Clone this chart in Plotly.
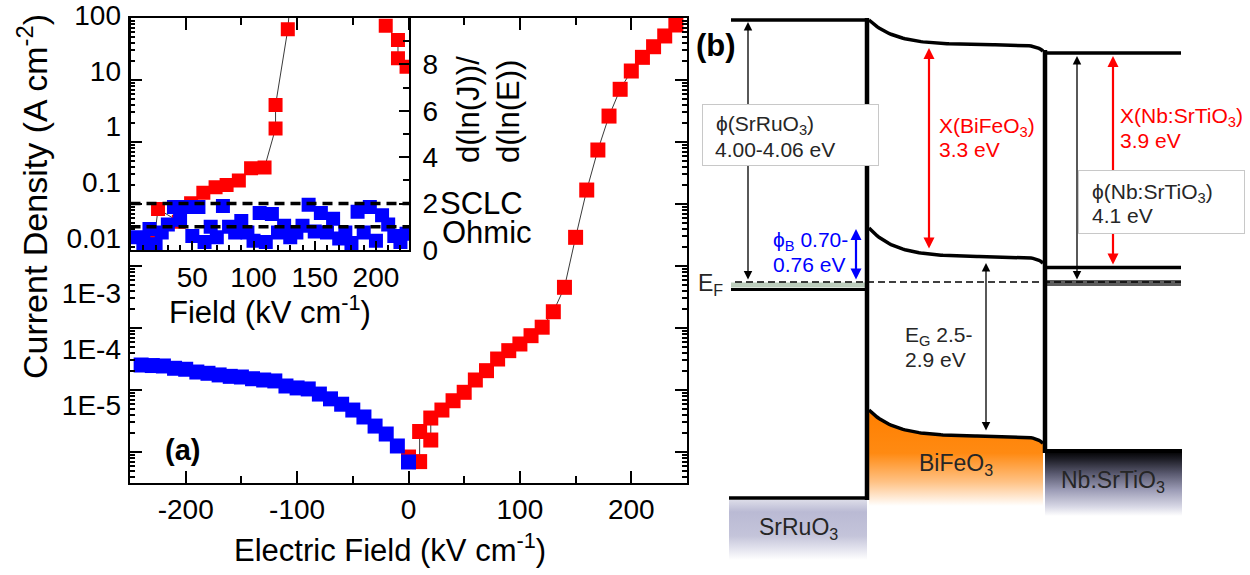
import math
import plotly.graph_objects as go

W, H = 1250, 575
FONT = "Liberation Sans, Arial, sans-serif"

# ===================== DATA : panel (a) main J-E =====================
E_neg = [-240, -230, -220, -210, -200, -190, -180, -170, -160, -150, -140, -130, -120,
         -110, -100, -90, -80, -70, -60, -50, -40, -30, -20, -10, 0]
J_neg = [2.53e-4, 2.48e-4, 2.44e-4, 2.24e-4, 2.16e-4, 1.95e-4, 1.86e-4, 1.75e-4, 1.66e-4,
         1.62e-4, 1.52e-4, 1.45e-4, 1.40e-4, 1.16e-4, 1.08e-4, 1.04e-4, 8.6e-5, 7.2e-5,
         5.9e-5, 4.75e-5, 3.67e-5, 2.62e-5, 1.95e-5, 1.25e-5, 6.9e-6]

E_pos = [0, 10, 10, 20, 20, 30, 40, 50, 60, 70, 80, 90, 100, 110, 120, 130, 140,
         150, 160, 170, 180, 190, 200, 210, 220, 230, 240]
J_pos = [8.3e-6, 7.0e-6, 2.14e-5, 1.56e-5, 3.53e-5, 4.75e-5, 6.71e-5, 9.18e-5, 1.45e-4,
         2.05e-4, 3.16e-4, 4.31e-4, 5.52e-4, 7.52e-4, 1.03e-3, 1.83e-3, 4.53e-3,
         0.029, 0.168, 0.743, 2.62, 7.08, 13.96, 23.2, 34.4, 51.3, 77.1]

# ===================== DATA : inset d(lnJ)/d(lnE) =====================
inset_E_pos = [19, 22, 39, 49, 59, 69, 78, 88, 98, 109, 118, 118, 128, 138,
               None, 208, 218, 218, 225]
inset_s_pos = [0.50, 1.77, 1.22, 2.02, 2.47, 2.70, 2.80, 3.00, 3.52, 3.56, 5.24, 6.25,
               9.51, 16.0, None, 9.67, 9.05, 8.26, 7.9]

inset_E_neg = [5, 10, 15, 20, 25, 30, 35, 40, 45, 50, 55, 60, 65, 70, 75, 80, 85, 90,
               95, 100, 105, 110, 115, 120, 125, 130, 135, 140, 145, 150, 155, 160, 165,
               170, 175, 180, 185, 190, 195, 200, 205, 210, 215, 220, 225]
inset_s_neg = [0.55, 0.30, 0.90, 0.25, 0.75, 1.10, 1.85, 1.30, 1.85, 0.60, 1.85, 0.35,
               1.00, 0.55, 1.90, 1.00, 0.75, 1.25, 0.75, 0.40, 1.60, 0.35, 1.55, 0.75,
               1.05, 0.55, 0.75, 1.05, 1.95, 0.80, 1.60, 0.75, 1.35, 0.50, 0.75, 0.30,
               1.65, 0.75, 1.85, 0.40, 1.50, 1.10, 0.60, 0.35, 0.70]

inset_ref_levels = [2, 1]
inset_ref_labels = ["SCLC", "Ohmic"]

# tick labels
main_x_ticks = [-200, -100, 0, 100, 200]
main_x_text = ["-200", "-100", "0", "100", "200"]
main_x_minor = [-150, -50, 50, 150]
main_y_ticks = [1e-5, 1e-4, 1e-3, 1e-2, 0.1, 1, 10, 100]
main_y_text = ["1E-5", "1E-4", "1E-3", "0.01", "0.1", "1", "10", "100"]
main_y_minor = [k * 10.0 ** n for n in range(-6, 2) for k in range(2, 10)]
inset_x_ticks = [50, 100, 150, 200]
inset_x_minor = [v for v in range(10, 230, 10) if v % 50]
inset_y_ticks = [0, 2, 4, 6, 8]
inset_y_minor = [1, 3, 5, 7, 9]

# ===================== panel (b) schematic geometry (panel units) =====================
sro_x = [731, 867]
nsto_x = [1046, 1181]
bfo_x0, bfo_x1 = 869, 1043
sro_vac, sro_ef_line, sro_ef_band, sro_bottom = 20, 289.5, 285, 498
nsto_vac, nsto_cb, nsto_ef_band, nsto_top_vb = 53, 267.5, 283, 451
bfo_vac = [20, 45, 53]      # interface-left, bulk, interface-right
bfo_cb = [228, 257, 265]
bfo_vb = [410, 436.5, 445.5]
ef_level = 282
ef_span = [735, 1181]
iface_left = [867, 18, 500]
iface_right = [1045, 50, 453]

arrow_x = [748, 856, 929, 986, 1077, 1113]
arrow_top = [22, 229, 48, 263, 56, 56]
arrow_bot = [281, 281, 250, 432, 281, 266]
arrow_col = ["black", "#0000ff", "#ff0000", "black", "black", "#ff0000"]
arrow_w = [1.3, 2.2, 2.2, 1.3, 1.3, 2.2]


def bent(levels, xs, w_left=26.0, w_right=7.0):
    a, b, c = levels
    return [b - (b - a) * math.exp(-(x - bfo_x0) / w_left) + (c - b) * math.exp((x - iface_right[0]) / w_right)
            for x in xs]


bfo_xs = [bfo_x0 + i * 2 for i in range(int((bfo_x1 - bfo_x0) / 2) + 1)]

fig = go.Figure()

# ---------- main panel ----------
fig.add_trace(go.Scatter(x=E_pos, y=J_pos, mode="lines+markers", xaxis="x", yaxis="y",
                         line=dict(color="#3a3a3a", width=1),
                         marker=dict(symbol="square", size=15, color="#ff0000", line=dict(width=0)),
                         showlegend=False, hoverinfo="skip"))
fig.add_trace(go.Scatter(x=E_neg, y=J_neg, mode="markers", xaxis="x", yaxis="y",
                         marker=dict(symbol="square", size=15, color="#0000ff", line=dict(width=0)),
                         showlegend=False, hoverinfo="skip"))
# label-only axis carrier
fig.add_trace(go.Scatter(x=[None], y=[None], xaxis="x", yaxis="y4", showlegend=False, hoverinfo="skip"))

# ---------- inset ----------
fig.add_trace(go.Scatter(x=inset_E_pos, y=inset_s_pos, mode="lines+markers", xaxis="x2", yaxis="y2",
                         line=dict(color="#3a3a3a", width=1),
                         marker=dict(symbol="square", size=14, color="#ff0000", line=dict(width=0)),
                         showlegend=False, hoverinfo="skip"))
fig.add_trace(go.Scatter(x=inset_E_neg, y=inset_s_neg, mode="markers", xaxis="x2", yaxis="y2",
                         marker=dict(symbol="square", size=14, color="#0000ff", line=dict(width=0)),
                         showlegend=False, hoverinfo="skip"))

# ---------- panel (b) ----------
def b_trace(x, y, **kw):
    fig.add_trace(go.Scatter(x=x, y=y, xaxis="x3", yaxis="y3", showlegend=False,
                             hoverinfo="skip", **kw))

# gradient fills
vb_curve = bent(bfo_vb, bfo_xs)
b_trace(bfo_xs + [bfo_x1, bfo_x0], vb_curve + [506, 506], mode="lines", fill="toself",
        line=dict(width=0),
        fillgradient=dict(type="vertical", start=410, stop=506,
                          colorscale=[[0, "#ff7f00"], [0.45, "#ff8a12"], [0.75, "#ffc285"], [1, "#ffffff"]]))
b_trace([sro_x[0] - 2, sro_x[1], sro_x[1], sro_x[0] - 2], [500, 500, 560, 560], mode="lines", fill="toself",
        line=dict(width=0),
        fillgradient=dict(type="vertical", start=500, stop=560,
                          colorscale=[[0, "#dcdce8"], [0.2, "#babad4"], [0.6, "#c4c4da"], [1, "#ffffff"]]))
b_trace([nsto_x[0] - 1, nsto_x[1] + 1, nsto_x[1] + 1, nsto_x[0] - 1], [451, 451, 516, 516], mode="lines",
        fill="toself", line=dict(width=0),
        fillgradient=dict(type="vertical", start=451, stop=516,
                          colorscale=[[0, "#000000"], [0.12, "#1c1c24"], [0.35, "#5a5a70"],
                                      [0.6, "#9c9cb6"], [0.85, "#d6d6e4"], [1, "#ffffff"]]))

# Fermi bands
b_trace(sro_x, [sro_ef_band] * 2, mode="lines", line=dict(color="#bccdbc", width=5))
b_trace(nsto_x, [nsto_ef_band] * 2, mode="lines", line=dict(color="#5c5c5c", width=6))

# band edges
blk = dict(color="black", width=3.5)
b_trace(sro_x, [sro_vac] * 2, mode="lines", line=blk)
b_trace(sro_x, [sro_ef_line] * 2, mode="lines", line=dict(color="black", width=3))
b_trace([sro_x[0] - 2, sro_x[1]], [sro_bottom] * 2, mode="lines", line=blk)
b_trace(nsto_x, [nsto_vac] * 2, mode="lines", line=blk)
b_trace(nsto_x, [nsto_cb] * 2, mode="lines", line=blk)
b_trace([nsto_x[0], nsto_x[1] + 1], [nsto_top_vb] * 2, mode="lines", line=dict(color="black", width=4))
b_trace(bfo_xs, bent(bfo_vac, bfo_xs), mode="lines", line=blk)
b_trace(bfo_xs, bent(bfo_cb, bfo_xs), mode="lines", line=blk)
b_trace(bfo_xs, vb_curve, mode="lines", line=blk)
b_trace([iface_left[0]] * 2, iface_left[1:], mode="lines", line=dict(color="black", width=4.5))
b_trace([iface_right[0]] * 2, iface_right[1:], mode="lines", line=dict(color="black", width=4.5))
b_trace(ef_span, [ef_level] * 2, mode="lines", line=dict(color="black", width=1.3, dash="7px,4px"))

# ===================== layout =====================
def fx(p):
    return p / W


def fy(p):
    return 1 - p / H


axis_common = dict(showline=True, linecolor="black", linewidth=2, showgrid=False, zeroline=False,
                   ticks="inside", tickcolor="black", tickwidth=2, automargin=False,
                   ticklabeloverflow="allow")

fig.update_layout(
    width=W, height=H, autosize=False,
    margin=dict(l=0, r=0, t=0, b=0, pad=0),
    paper_bgcolor="white", plot_bgcolor="rgba(0,0,0,0)",
    font=dict(family=FONT, color="black"),
    showlegend=False,
    xaxis=dict(domain=[fx(130), fx(687)], range=[-250, 250], anchor="y",
               tickmode="array", tickvals=main_x_ticks, ticktext=main_x_text, ticklen=12,
               mirror="ticks", tickfont=dict(size=28), ticklabelstandoff=0,
               minor=dict(ticks="inside", ticklen=7, tickwidth=2, tickcolor="black",
                          tickmode="array", tickvals=main_x_minor),
               **axis_common),
    yaxis=dict(domain=[fy(483), fy(18)], type="log", range=[-5.5, 2], anchor="x",
               tickmode="array", tickvals=main_y_ticks, ticklen=12, showticklabels=False,
               mirror="ticks",
               minor=dict(ticks="inside", ticklen=5, tickwidth=1.5, tickcolor="black",
                          tickmode="array", tickvals=main_y_minor),
               **axis_common),
    yaxis4=dict(domain=[fy(470), 1.0], type="log", range=[2 - 455 / (390 / 7), 2 + 15 / (390 / 7)],
                anchor="free", position=fx(121), side="left", showline=False, ticks="",
                showgrid=False, zeroline=False, tickmode="array", tickvals=main_y_ticks,
                ticktext=main_y_text, tickfont=dict(size=28), automargin=False,
                ticklabeloverflow="allow"),
    xaxis2=dict(domain=[fx(130.5), fx(409)], range=[-0.5, 227], anchor="y2",
                tickmode="array", tickvals=inset_x_ticks, ticklen=9, mirror=True,
                tickfont=dict(size=28), ticklabelstandoff=1,
                minor=dict(ticks="inside", ticklen=5, tickwidth=1.5, tickcolor="black",
                           tickmode="array", tickvals=inset_x_minor),
                **axis_common),
    yaxis2=dict(domain=[fy(250), fy(18)], range=[0, 10], anchor="x2", side="right",
                tickmode="array", tickvals=inset_y_ticks, ticklen=10, mirror=True,
                tickfont=dict(size=28), ticklabelstandoff=6,
                minor=dict(ticks="inside", ticklen=6, tickwidth=1.5, tickcolor="black",
                           tickmode="array", tickvals=inset_y_minor),
                **axis_common),
    xaxis3=dict(domain=[fx(690), 1.0], range=[690, 1250], anchor="y3", visible=False, automargin=False),
    yaxis3=dict(domain=[0, 1], range=[575, 0], anchor="x3", visible=False, automargin=False),
)

# inset reference lines
for lvl in inset_ref_levels:
    fig.add_shape(type="line", xref="x2 domain", yref="y2", x0=0, x1=1, y0=lvl, y1=lvl,
                  line=dict(color="black", width=3.5, dash="10px,6px"), layer="above")

ann = []


def txt(text, x, y, size, xref="paper", yref="paper", xanchor="center", color="black", **kw):
    ann.append(dict(text=text, x=x, y=y, xref=xref, yref=yref, xanchor=xanchor, yanchor="middle",
                    showarrow=False, font=dict(size=size, color=color, family=FONT), **kw))


# panel (a) texts
txt("Electric Field (kV cm<sup>-1</sup>)", fx(390), fy(548), 31)
txt("Current Density (A cm<sup>-2</sup>)", fx(32), fy(197), 34, textangle=-90)
txt("<b>(a)</b>", fx(182), fy(450), 29)
txt("Field (kV cm<sup>-1</sup>)", fx(270), fy(310), 31)
txt("d(ln(J))/<br>d(ln(E))", fx(488), fy(110), 31, textangle=-90, align="left")
txt(inset_ref_labels[0], fx(438), fy(203), 31, xanchor="left")
txt(inset_ref_labels[1], fx(440), fy(233), 31, xanchor="left")

# panel (b) arrows
for xa, yt, yb, col, wd in zip(arrow_x, arrow_top, arrow_bot, arrow_col, arrow_w):
    ann.append(dict(text="", x=xa, y=yt, ax=xa, ay=yb, xref="x3", yref="y3", axref="x3", ayref="y3",
                    showarrow=True, arrowhead=2, startarrowhead=2, arrowside="end+start",
                    arrowsize=1.3 if wd < 2 else 1.0, startarrowsize=1.3 if wd < 2 else 1.0,
                    arrowwidth=wd, arrowcolor=col, standoff=0, startstandoff=0))

# label boxes (cover the arrows behind them)
for cx, cy, bw, bh in [(790, 134.5, 175, 60), (1161.5, 202, 165, 62)]:
    ann.append(dict(text=" ", x=cx, y=cy, xref="x3", yref="y3", xanchor="center", yanchor="middle",
                    showarrow=False, width=bw, height=bh, bgcolor="white", bordercolor="#c8c8c8",
                    borderwidth=1, borderpad=0))

B = dict(xref="x3", yref="y3")
dark = "#262626"
txt("ϕ(SrRuO<sub>3</sub>)", 714, 125, 21, xanchor="left", color=dark, **B)
txt("4.00-4.06 eV", 713, 149, 21, xanchor="left", color=dark, **B)
txt("ϕ<sub>B</sub> 0.70-", 771, 241, 21, xanchor="left", color="#0000ff", **B)
txt("0.76 eV", 771, 264, 21, xanchor="left", color="#0000ff", **B)
txt("X(BiFeO<sub>3</sub>)", 937, 127, 21, xanchor="left", color="#ff0000", **B)
txt("3.3 eV", 937, 149, 21, xanchor="left", color="#ff0000", **B)
txt("E<sub>G</sub> 2.5-", 903, 336, 21, xanchor="left", color=dark, **B)
txt("2.9 eV", 903, 359, 21, xanchor="left", color=dark, **B)
txt("X(Nb:SrTiO<sub>3</sub>)", 1118, 117, 21, xanchor="left", color="#ff0000", **B)
txt("3.9 eV", 1118, 140, 21, xanchor="left", color="#ff0000", **B)
txt("ϕ(Nb:SrTiO<sub>3</sub>)", 1090, 193, 21, xanchor="left", color=dark, **B)
txt("4.1 eV", 1090, 215, 21, xanchor="left", color=dark, **B)
txt("E<sub>F</sub>", 696, 284, 23, xanchor="left", color=dark, **B)
txt("<b>(b)</b>", 716, 45, 31, color="black", **B)
txt("SrRuO<sub>3</sub>", 798, 528, 23, color=dark, **B)
txt("BiFeO<sub>3</sub>", 956, 464, 23, color=dark, **B)
txt("Nb:SrTiO<sub>3</sub>", 1113, 481, 23, color=dark, **B)

fig.update_layout(annotations=ann)
fig.write_html("out.html", config={"displayModeBar": False},
               post_script="document.body.style.margin='0px';document.body.style.overflow='hidden';")
